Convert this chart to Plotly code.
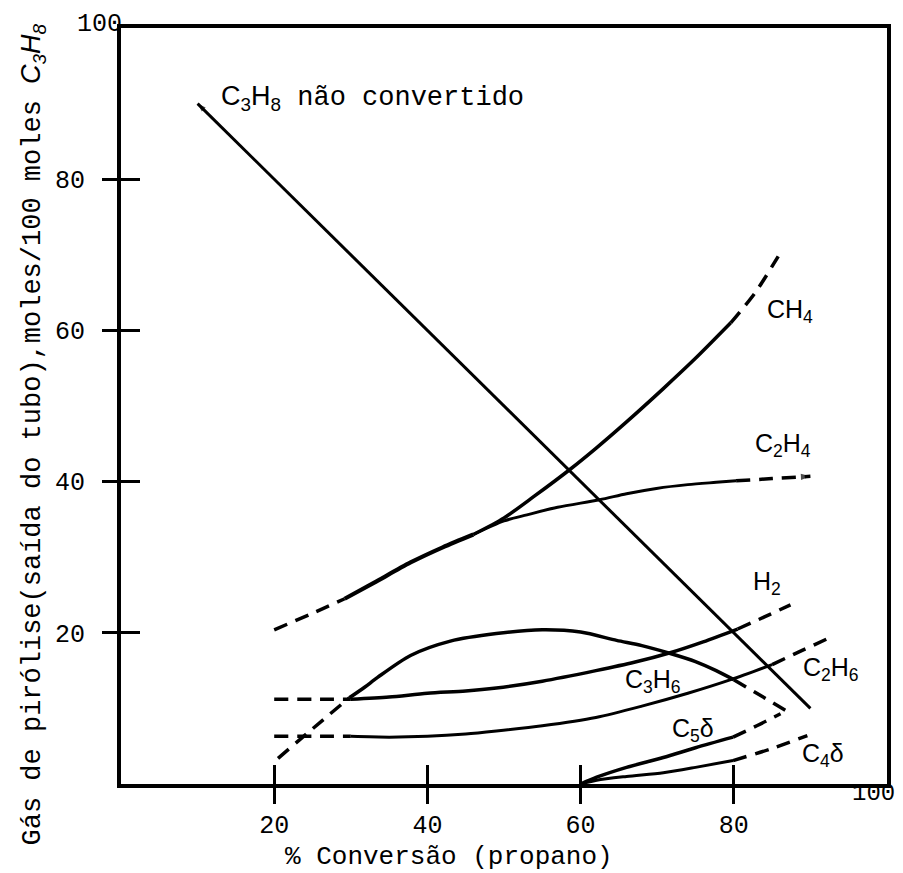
import plotly.graph_objects as go

# ---------------- data ----------------
x_ticks = [20, 40, 60, 80]
y_ticks = [20, 40, 60, 80]

c3h8_x = [90, 10]
c3h8_y = [10, 90]

shared_x = [29.2, 33, 37.8, 42, 46]
shared_y = [24.5, 26.6, 29.3, 31.3, 33.0]

ch4_x = [50, 54, 58.6, 62, 66, 70.8, 75, 79.6]
ch4_y = [35.2, 38.1, 41.6, 44.4, 47.9, 52.3, 56.3, 61.0]
ch4_dash_x = [79.6, 82.8, 85.8]
ch4_dash_y = [61.0, 65.0, 69.8]

c2h4_start_x = [20, 24.6, 29.2]
c2h4_start_y = [20.4, 22.4, 24.5]
c2h4_x = [50, 53, 57, 62.5, 66, 69.9, 74, 77.7, 80.3]
c2h4_y = [34.8, 35.6, 36.6, 37.6, 38.4, 39.1, 39.6, 39.9, 40.1]
c2h4_dash_x = [80.3, 85, 90]
c2h4_dash_y = [40.1, 40.4, 40.7]

h2_start_x = [20, 25, 30]
h2_start_y = [11.2, 11.2, 11.2]
h2_x = [30, 35, 40, 45, 49, 55, 62, 67, 71.8, 76, 80.5]
h2_y = [11.2, 11.5, 12.0, 12.3, 12.7, 13.6, 15.0, 16.1, 17.4, 18.8, 20.5]
h2_dash_x = [80.5, 84, 87.4]
h2_dash_y = [20.5, 22.1, 23.7]

c2h6_start_x = [20, 25, 30]
c2h6_start_y = [6.3, 6.3, 6.3]
c2h6_x = [30, 35, 40, 45, 49, 55, 62, 68, 74, 79.6, 85]
c2h6_y = [6.3, 6.2, 6.3, 6.6, 7.0, 7.7, 8.8, 10.3, 12.0, 13.8, 15.8]
c2h6_dash_x = [85, 89, 92.6]
c2h6_dash_y = [15.8, 17.7, 19.4]

c3h6_start_x = [20.5, 25, 29.8]
c3h6_start_y = [3.4, 7.3, 11.4]
c3h6_x = [29.8, 31.8, 33.5, 37.8, 43, 49, 55, 60, 64.7, 68, 71.6, 75, 77.7, 80]
c3h6_y = [11.4, 12.8, 14.1, 17.0, 18.9, 19.9, 20.4, 20.1, 19.0, 18.3, 17.3, 16.2, 15.0, 13.8]
c3h6_dash_x = [80, 83.5, 87]
c3h6_dash_y = [13.8, 11.7, 9.6]

c5_x = [60, 62.1, 66, 70.8, 75, 79.9]
c5_y = [0, 0.9, 2.2, 3.5, 4.8, 6.2]
c5_dash_x = [79.9, 83, 86.1]
c5_dash_y = [6.2, 7.7, 9.3]

c4_x = [60, 62.1, 66, 70.8, 75, 79.9]
c4_y = [0, 0.5, 1.0, 1.5, 2.2, 3.1]
c4_dash_x = [79.9, 85, 89.6]
c4_dash_y = [3.1, 4.7, 6.4]

# label texts and anchor points
lbl_text = ["CH<sub>4</sub>", "C<sub>2</sub>H<sub>4</sub>", "H<sub>2</sub>",
            "C<sub>2</sub>H<sub>6</sub>", "C<sub>3</sub>H<sub>6</sub>",
            "C<sub>5</sub>δ", "C<sub>4</sub>δ"]
lbl_x = [87.3, 86.4, 84.3, 92.7, 69.4, 74.7, 91.7]
lbl_y = [62.6, 44.9, 26.6, 15.2, 13.6, 7.1, 3.9]

MONO = "Liberation Mono"
HAND = "Liberation Sans"
LW = 3.5
DASH = "14px,9px"

fig = go.Figure()


def add(x, y, dash="solid", width=LW, marker=None):
    kw = dict(x=x, y=y, mode="lines", line=dict(color="black", width=width,
              dash=dash, shape="spline", smoothing=0.8),
              showlegend=False, hoverinfo="skip")
    if marker is not None:
        kw["mode"] = "lines+markers"
        kw["marker"] = marker
    fig.add_trace(go.Scatter(**kw))


arrow_end = lambda n, s: dict(symbol="arrow", angleref="previous",
                              size=[0] * (n - 1) + [s], color="black",
                              line=dict(width=0))

add(c3h8_x, c3h8_y, width=3, marker=arrow_end(len(c3h8_x), 9))
add(shared_x, shared_y, width=4.2)
add(shared_x[-1:] + ch4_x, shared_y[-1:] + ch4_y)
add(ch4_dash_x, ch4_dash_y, dash=DASH)
add(c2h4_start_x, c2h4_start_y, dash=DASH)
add(shared_x[-1:] + c2h4_x, shared_y[-1:] + c2h4_y, width=3)
add(c2h4_dash_x, c2h4_dash_y, dash=DASH, marker=arrow_end(len(c2h4_dash_x), 10))
add(h2_start_x, h2_start_y, dash=DASH)
add(h2_x, h2_y)
add(h2_dash_x, h2_dash_y, dash=DASH)
add(c2h6_start_x, c2h6_start_y, dash=DASH)
add(c2h6_x, c2h6_y, width=3)
add(c2h6_dash_x, c2h6_dash_y, dash=DASH)
add(c3h6_start_x, c3h6_start_y, dash=DASH)
add(c3h6_x, c3h6_y)
add(c3h6_dash_x, c3h6_dash_y, dash=DASH)
add(c5_x, c5_y)
add(c5_dash_x, c5_dash_y, dash=DASH)
add(c4_x, c4_y, width=3)
add(c4_dash_x, c4_dash_y, dash=DASH)

# invisible trace to carry the overlay axes (inner tick halves)
fig.add_trace(go.Scatter(x=[], y=[], xaxis="x2", yaxis="y2",
                         showlegend=False, hoverinfo="skip"))

for t, lx, ly in zip(lbl_text, lbl_x, lbl_y):
    fig.add_annotation(x=lx, y=ly, text=t, showarrow=False,
                       font=dict(family=HAND, size=25, color="black"))

fig.add_annotation(x=12.8, y=90.8, xanchor="left", showarrow=False,
                   text=("<span style='font-family:Liberation Sans'>C<sub>3</sub>H<sub>8</sub></span>"
                         " não convertido"),
                   font=dict(family=MONO, size=27, color="black"))

# y axis title
fig.add_annotation(xref="paper", yref="paper", x=-0.140, y=0.462,
                   textangle=-90, showarrow=False,
                   text=("Gás de pirólise(saída do tubo),moles/100 moles "
                         "<span style='font-family:Liberation Sans'><i>C<sub>3</sub>H<sub>8</sub></i></span>"),
                   font=dict(family=MONO, size=27, color="black"))
# x axis title
fig.add_annotation(xref="paper", yref="paper", x=0.428, y=-0.0965,
                   yanchor="middle", showarrow=False,
                   text="% Conversão (propano)",
                   font=dict(family=MONO, size=26, color="black"))
# corner "100" labels
fig.add_annotation(xref="paper", yref="paper", x=1.013, y=-0.012,
                   xanchor="right", yanchor="middle", showarrow=False,
                   text="100",
                   font=dict(family=MONO, size=24, color="black"))
fig.add_annotation(xref="paper", yref="paper", x=-0.060, y=1.005,
                   yanchor="middle", showarrow=False, text="100",
                   font=dict(family=MONO, size=25, color="black"))

axis_common = dict(range=[0, 100], showgrid=False, zeroline=False,
                   tickcolor="black", tickwidth=3)

fig.update_layout(
    width=903, height=873,
    margin=dict(l=121, r=13, t=28, b=89, pad=0),
    paper_bgcolor="white", plot_bgcolor="white",
    xaxis=dict(**axis_common, tickvals=x_ticks, ticks="outside", ticklen=16,
               showline=True, linewidth=4, linecolor="black", mirror=True,
               ticklabelstandoff=-1,
               tickfont=dict(family=MONO, size=25, color="black")),
    yaxis=dict(**axis_common, tickvals=y_ticks, ticks="outside", ticklen=15,
               showline=True, linewidth=4, linecolor="black", mirror=True,
               ticklabelstandoff=12,
               tickfont=dict(family=MONO, size=25, color="black")),
    xaxis2=dict(**axis_common, tickvals=x_ticks, ticks="inside", ticklen=19,
                overlaying="x", anchor="y", side="bottom",
                showticklabels=False, showline=False),
    yaxis2=dict(**axis_common, tickvals=y_ticks, ticks="inside", ticklen=19,
                overlaying="y", anchor="x", side="left",
                showticklabels=False, showline=False),
)

fig.write_html("out.html")
